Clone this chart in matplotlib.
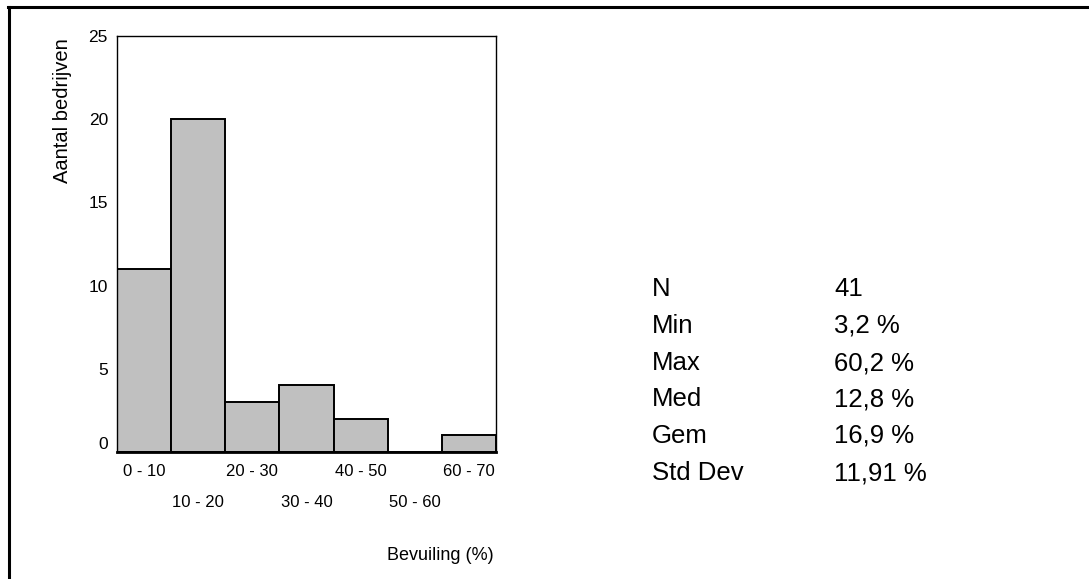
import matplotlib
matplotlib.use("Agg")
import matplotlib.pyplot as plt
from matplotlib.lines import Line2D

plt.rcParams['font.family'] = ['Liberation Sans', 'DejaVu Sans']

# histogram data
bin_left = [0, 10, 20, 30, 40, 50, 60]
bin_labels = ["0 - 10", "10 - 20", "20 - 30", "30 - 40", "40 - 50", "50 - 60", "60 - 70"]
counts = [11, 20, 3, 4, 2, 0, 1]
y_ticks = [0, 5, 10, 15, 20, 25]

# summary table
stat_names = ["N", "Min", "Max", "Med", "Gem", "Std Dev"]
stat_values = ["41", "3,2 %", "60,2 %", "12,8 %", "16,9 %", "11,91 %"]

W, H = 1089, 579
fig = plt.figure(figsize=(W / 100, H / 100), dpi=100)
ax = fig.add_axes([117 / W, 1 - 452 / H, 379 / W, 416 / H])

ax.bar(bin_left, counts, width=10, align='edge', color='#c0c0c0',
       edgecolor='black', linewidth=1.4)
ax.set_xlim(0, 70)
ax.set_ylim(0, 25)

ax.set_yticks(y_ticks)
ax.set_yticklabels([str(v) for v in y_ticks], fontsize=12.5)
ax.tick_params(axis='y', length=0, pad=6.5)
ax.get_yticklabels()[0].set_va('bottom')

centers = [b + 5 for b in bin_left]
ax.set_xticks(centers)
ax.set_xticklabels(bin_labels, fontsize=12)
ax.tick_params(axis='x', length=0)
for i, tick in enumerate(ax.xaxis.get_major_ticks()):
    tick.set_pad(9 if i % 2 == 0 else 31)

for s in ax.spines.values():
    s.set_linewidth(1.0)
ax.spines['bottom'].set_linewidth(2.0)

fig.text(63 / W, 1 - 38 / H, "Aantal bedrijven", rotation=90,
         ha='center', va='top', fontsize=14.5)
fig.text(494 / W, 1 - 555 / H, "Bevuiling (%)", ha='right', va='center',
         fontsize=13)

row_y = [289, 326, 363, 399, 436, 473]
for name, val, yy in zip(stat_names, stat_values, row_y):
    fig.text(652 / W, 1 - yy / H, name, ha='left', va='center', fontsize=18.5)
    fig.text(834 / W, 1 - yy / H, val, ha='left', va='center', fontsize=18.5)

# outer frame (top and left only)
fig.add_artist(Line2D([8.5 / W, 8.5 / W], [0, 1 - 6.5 / H], transform=fig.transFigure,
                      color='black', linewidth=2.2))
fig.add_artist(Line2D([7.5 / W, 1], [1 - 7 / H, 1 - 7 / H], transform=fig.transFigure,
                      color='black', linewidth=2.2))

fig.savefig("out.png", dpi=100)
